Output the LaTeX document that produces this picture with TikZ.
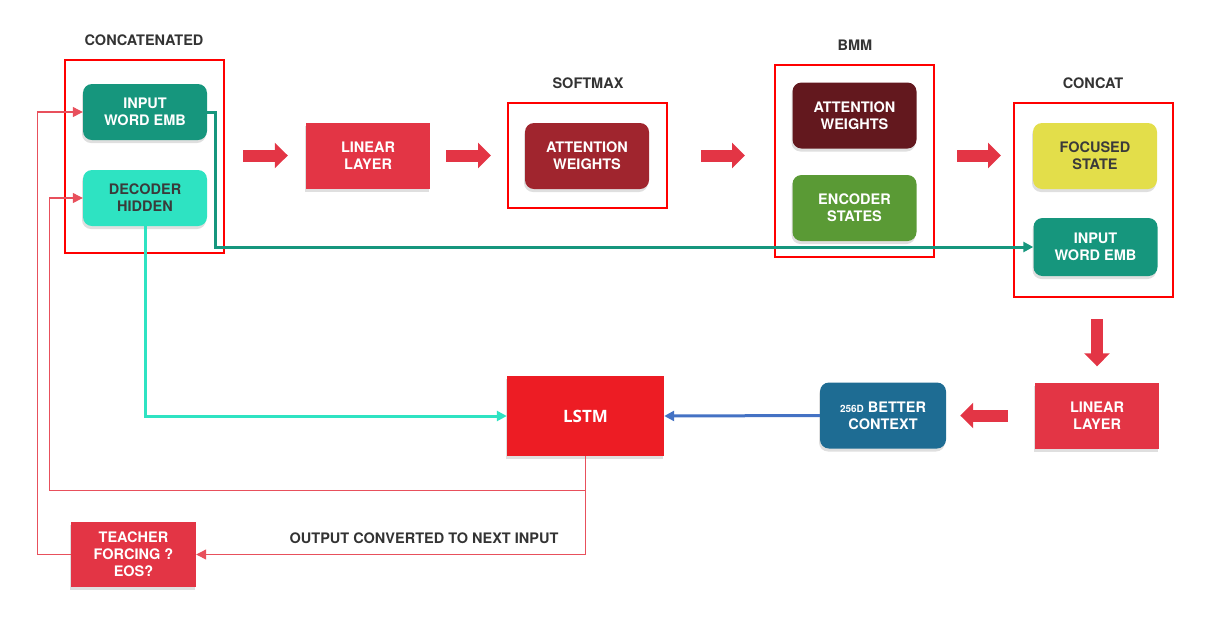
\documentclass[tikz,border=0pt]{standalone}
\usepackage{fontspec}
\setmainfont{TeX Gyre Heros}
\newfontfamily\lstmfont{Open Sans}
\usetikzlibrary{arrows.meta,shadows}
\definecolor{embgreen}{HTML}{16967D}
\definecolor{hidcyan}{HTML}{2EE3C2}
\definecolor{linred}{HTML}{E33545}
\definecolor{attred}{HTML}{A0252E}
\definecolor{attdark}{HTML}{63181E}
\definecolor{encgreen}{HTML}{5A9A35}
\definecolor{focyellow}{HTML}{E3DE4A}
\definecolor{ctxblue}{HTML}{1E6C93}
\definecolor{lstmred}{HTML}{ED1C24}
\definecolor{arrowblue}{HTML}{4472C4}
\definecolor{labelgray}{HTML}{333333}
\definecolor{darktext}{HTML}{3A3A3A}
\definecolor{fbred}{HTML}{E8505C}

\begin{document}
\begin{tikzpicture}[x=1pt,y=-1pt,>={Triangle[length=10pt,width=10pt]},
  every node/.style={font=\fontsize{14.5}{17}\selectfont\bfseries,align=center},
  box/.style={rectangle,rounded corners=9pt,minimum width=124pt,minimum height=66pt,text=white,
              drop shadow={shadow xshift=-1pt,shadow yshift=-3pt,opacity=0.25}},
  sqbox/.style={box,rounded corners=0pt},
  redframe/.style={draw=red,line width=2pt,minimum width=159pt},
  toplabel/.style={text=labelgray},
  fatarrow/.style={linred,line width=12pt,-{Triangle[length=13pt,width=25pt]}},
  feedback/.style={fbred,line width=1.2pt,->},
  thicklink/.style={line width=3pt,->}]
       \useasboundingbox (0,0) rectangle (1207,630);
       \node (concatlbl) at (144,40) [toplabel]{CONCATENATED};
       \node (softlbl) at (588,83) [toplabel]{SOFTMAX};
       \node (bmmlbl) at (855,45) [toplabel]{BMM};
       \node (catlbl) at (1093,83) [toplabel]{CONCAT};
       \node (outlbl) at (424,538) [toplabel]{OUTPUT CONVERTED TO NEXT INPUT};
       \node (concatframe) at (144.5,156.5) [redframe,minimum height=193pt]{};
       \node (softframe) at (587.5,155.5) [redframe,minimum height=105pt]{};
       \node (bmmframe) at (854.5,161) [redframe,minimum height=192pt]{};
       \node (catframe) at (1093.5,200) [redframe,minimum height=194pt]{};
       \node (inemb1) at (145,112) [box,fill=embgreen,minimum height=56pt]{INPUT\\WORD EMB};
       \node (dechid) at (145,198) [box,fill=hidcyan,text=darktext,minimum height=56pt]{DECODER\\HIDDEN};
       \node (linear1) at (368,156) [sqbox,fill=linred]{LINEAR\\LAYER};
       \node (attw1) at (587,156) [box,fill=attred]{ATTENTION\\WEIGHTS};
       \node (attw2) at (854.5,115.5) [box,fill=attdark]{ATTENTION\\WEIGHTS};
       \node (encst) at (854.5,208) [box,fill=encgreen]{ENCODER\\STATES};
       \node (focus) at (1095,156) [box,fill=focyellow,text=darktext]{FOCUSED\\STATE};
       \node (inemb2) at (1095.5,247) [box,fill=embgreen,minimum height=58pt]{INPUT\\WORD EMB};
       \node (linear2) at (1097,415.5) [sqbox,fill=linred]{LINEAR\\LAYER};
       \node (context) at (883,415.5) [box,fill=ctxblue,minimum width=126pt]
             {{\fontsize{10}{12}\selectfont 256D} BETTER\\CONTEXT};
       \node (lstm) at (585.5,416) [sqbox,fill=lstmred,minimum width=157pt,minimum height=80pt,
                                    font=\lstmfont\fontsize{17}{20}\selectfont\bfseries]{LSTM};
       \node (teacher) at (133.5,554.5) [sqbox,fill=linred,minimum width=125pt,minimum height=65pt]
             {TEACHER\\FORCING ?\\EOS?};
       \draw[fatarrow] ([xshift=18pt]concatframe.east |- softframe.east) -- ([xshift=-18pt]linear1.west |- softframe.east);
       \draw[fatarrow] ([xshift=16pt]linear1.east |- softframe.east) -- ([xshift=-16pt]softframe.west);
       \draw[fatarrow] ([xshift=33pt]softframe.east) -- ([xshift=-29pt]bmmframe.west |- softframe.east);
       \draw[fatarrow] ([xshift=22pt]bmmframe.east |- softframe.east) -- ([xshift=-12pt]catframe.west |- softframe.east);
       \draw[fatarrow] ([yshift=63pt]linear2.north) -- ([yshift=16pt]linear2.north);
       \draw[fatarrow] ([xshift=-27pt]linear2.west) -- ([xshift=14pt]context.east);
       \draw[thicklink,embgreen] (inemb1.east) -- ++(8,0) |- (inemb2.west);
       \draw[thicklink,hidcyan] (dechid.south) |- (lstm.west);
       \draw[thicklink,arrowblue] (context.west) -- (lstm.east);
       \draw[feedback] (lstm.south) -- ++(0,34) -| ([xshift=-33pt]dechid.west) -- (dechid.west);
       \draw[feedback] (lstm.south) |- (teacher.east);
       \draw[feedback] (teacher.west) -| ([xshift=-45pt]inemb1.west) -- (inemb1.west);
     \end{tikzpicture}
\end{document}
